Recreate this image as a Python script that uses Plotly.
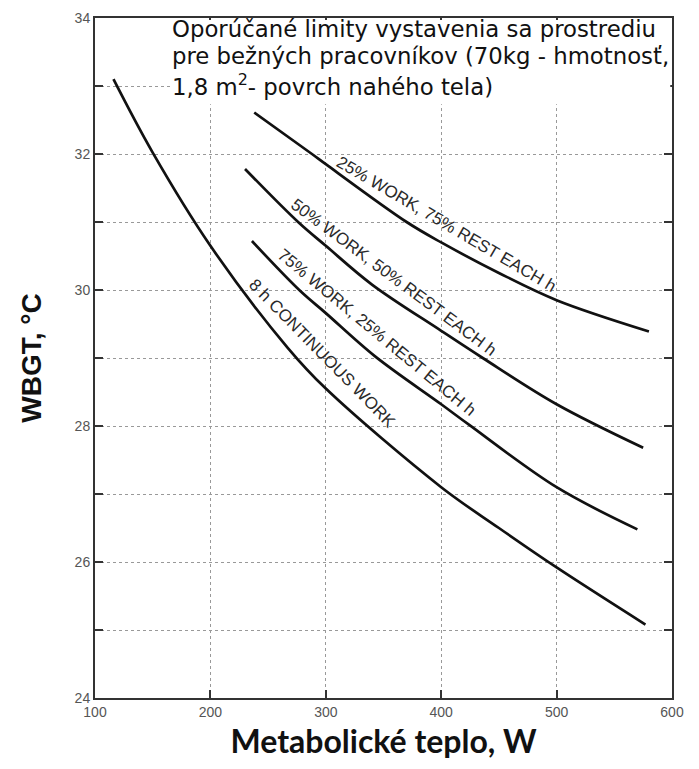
import plotly.graph_objects as go

# --- data ---
w_8h = [116, 150, 200, 267, 300, 400, 450, 500, 577]
t_8h = [33.1, 32.02, 30.65, 29.15, 28.55, 27.1, 26.5, 25.92, 25.08]

w_75 = [236, 277, 300, 343, 400, 424, 500, 570]
t_75 = [30.72, 30.0, 29.66, 29.02, 28.32, 28.02, 27.1, 26.48]

w_50 = [230, 276, 300, 340, 400, 436, 500, 575]
t_50 = [31.78, 31.0, 30.65, 30.08, 29.4, 29.0, 28.32, 27.68]

w_25 = [238, 288, 300, 370, 400, 450, 500, 580]
t_25 = [32.61, 32.0, 31.85, 31.0, 30.7, 30.25, 29.85, 29.39]

series_names = ["8 h CONTINUOUS WORK",
                "75% WORK, 25% REST EACH h",
                "50% WORK, 50% REST EACH h",
                "25% WORK, 75% REST EACH h"]

x_ticks = [100, 200, 300, 400, 500, 600]
y_ticks = [24, 25, 26, 27, 28, 29, 30, 31, 32, 33, 34]
y_ticktext = ["24", "", "26", "", "28", "", "30", "", "32", "", "34"]

# label placement (data coords) and angle
label_pos = [(297, 29.07, 45.5), (344, 29.37, 39.6), (359, 30.18, 36.6), (405, 30.97, 30.4)]

note_lines = ["Oporúčané limity vystavenia sa prostrediu",
              "pre bežných pracovníkov (70kg - hmotnosť,",
              "1,8 m<sup>2</sup>- povrch nahého tela)"]
note_y = [0.984, 0.944, 0.901]

fig = go.Figure()
for w, t, name in [(w_8h, t_8h, series_names[0]), (w_75, t_75, series_names[1]),
                   (w_50, t_50, series_names[2]), (w_25, t_25, series_names[3])]:
    fig.add_trace(go.Scatter(x=w, y=t, mode="lines", name=name,
                             line=dict(color="#111111", width=2.7, shape="spline", smoothing=1.0),
                             showlegend=False, hoverinfo="skip"))

for (x, y, ang), name in zip(label_pos, series_names):
    fig.add_annotation(x=x, y=y, xref="x", yref="y", text=name, showarrow=False,
                       textangle=ang, font=dict(family="Liberation Sans, Arial", size=17, color="#2a2a2a"))

# white box behind the note at top
fig.add_shape(type="rect", xref="paper", yref="paper", x0=0.13, x1=0.997, y0=0.873, y1=0.997,
              fillcolor="white", line=dict(width=0), layer="above")
for line, yy in zip(note_lines, note_y):
    fig.add_annotation(xref="paper", yref="paper", x=0.1298, y=yy, xanchor="left", yanchor="middle",
                       text=line, showarrow=False, align="left",
                       font=dict(family="DejaVu Sans", size=22.8, color="#111111"))

axis_common = dict(showline=True, linecolor="#333333", linewidth=2, mirror="ticks",
                   showgrid=True, gridcolor="#999999", griddash="dot", gridwidth=1,
                   ticks="inside", ticklen=8, tickcolor="#333333", tickwidth=1.5,
                   zeroline=False, automargin=False,
                   tickfont=dict(family="Liberation Sans, Arial", size=14, color="#555555"))

fig.update_xaxes(range=[100, 600], tickvals=x_ticks,
                 title=dict(text="<b>Metabolické teplo, W</b>",
                            font=dict(family="Lato, Open Sans", size=32, color="#111111"), standoff=12),
                 **axis_common)
fig.update_yaxes(range=[24, 34], tickvals=y_ticks, ticktext=y_ticktext,
                 title=dict(text="<b>WBGT, °C</b>",
                            font=dict(family="Liberation Sans, Arial", size=28, color="#111111"), standoff=25),
                 **axis_common)

fig.update_layout(width=699, height=769, margin=dict(l=87, r=35, t=10, b=79),
                  plot_bgcolor="white", paper_bgcolor="white")

fig.write_html("out.html")
